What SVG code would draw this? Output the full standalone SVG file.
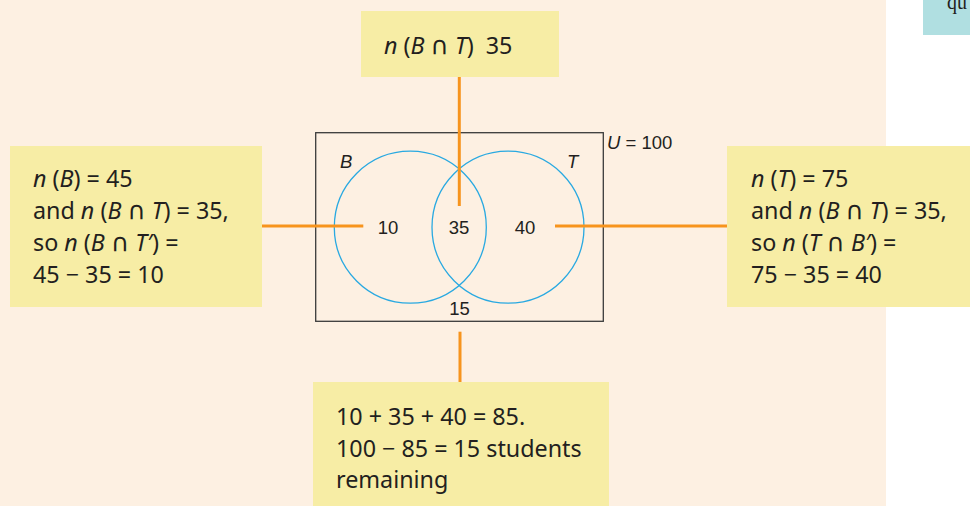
<svg xmlns="http://www.w3.org/2000/svg" width="970" height="506" viewBox="0 0 970 506">
<style>
.box{fill:#f7eda5}
.bt{font-family:"Noto Sans","Open Sans",sans-serif;font-size:23.3px;fill:#231f20}
.i{font-style:italic}
.cap{font-family:"DejaVu Sans",sans-serif;font-size:25px}
.vt{font-family:"Liberation Sans",Arial,sans-serif;font-size:18.5px;fill:#231f20}
.conn{stroke:#f7941d;stroke-width:3;fill:none}
.circ{fill:none;stroke:#29a9e1;stroke-width:1.3}
</style>
<rect x="0" y="0" width="886" height="506" fill="#fdf0e2"/>
<rect x="923" y="0" width="47" height="35" fill="#b0dfe1"/>
<text x="947" y="9" font-family="Liberation Serif,serif" font-size="20" fill="#231f20">qu</text>
<g id="venn">
<rect x="315.7" y="132.7" width="287.6" height="188.6" fill="none" stroke="#3a3a3a" stroke-width="1.3"/>
<circle class="circ" cx="410.3" cy="227.2" r="76"/>
<circle class="circ" cx="508" cy="227.2" r="76"/>
<text class="vt i" x="340" y="168">B</text>
<text class="vt i" x="567" y="168">T</text>
<text class="vt" x="388" y="234" text-anchor="middle">10</text>
<text class="vt" x="459" y="234" text-anchor="middle">35</text>
<text class="vt" x="525" y="234" text-anchor="middle">40</text>
<text class="vt" x="459.5" y="315" text-anchor="middle">15</text>
<text class="vt" x="607" y="149"><tspan class="i">U</tspan> = 100</text>
</g>
<g id="connectors">
<line class="conn" x1="459.3" y1="77" x2="459.3" y2="206"/>
<line class="conn" x1="262" y1="226" x2="363.3" y2="226"/>
<line class="conn" x1="555" y1="226" x2="727" y2="226"/>
<line class="conn" x1="460" y1="331.7" x2="460" y2="382"/>
</g>
<g id="top-box">
<rect class="box" x="361" y="11" width="198" height="66"/>
<text class="bt" x="384" y="54" style="white-space:pre"><tspan class="i">n</tspan> (<tspan class="i">B</tspan> <tspan class="cap">∩</tspan> <tspan class="i">T</tspan>)  35</text>
</g>
<g id="left-box">
<rect class="box" x="10" y="146" width="252" height="161"/>
<text class="bt" x="33" y="187"><tspan class="i">n</tspan> (<tspan class="i">B</tspan>) = 45</text>
<text class="bt" x="33" y="219">and <tspan class="i">n</tspan> (<tspan class="i">B</tspan> <tspan class="cap">∩</tspan> <tspan class="i">T</tspan>) = 35,</text>
<text class="bt" x="33" y="251">so <tspan class="i">n</tspan> (<tspan class="i">B</tspan> <tspan class="cap">∩</tspan> <tspan class="i">T′</tspan>) =</text>
<text class="bt" x="33" y="283">45 − 35 = 10</text>
</g>
<g id="right-box">
<rect class="box" x="727" y="146" width="243" height="161"/>
<text class="bt" x="751" y="187"><tspan class="i">n</tspan> (<tspan class="i">T</tspan>) = 75</text>
<text class="bt" x="751" y="219">and <tspan class="i">n</tspan> (<tspan class="i">B</tspan> <tspan class="cap">∩</tspan> <tspan class="i">T</tspan>) = 35,</text>
<text class="bt" x="751" y="251">so <tspan class="i">n</tspan> (<tspan class="i">T</tspan> <tspan class="cap">∩</tspan> <tspan class="i">B′</tspan>) =</text>
<text class="bt" x="751" y="283">75 − 35 = 40</text>
</g>
<g id="bottom-box">
<rect class="box" x="313" y="382" width="296" height="124"/>
<text class="bt" x="336" y="425">10 + 35 + 40 = 85.</text>
<text class="bt" x="336" y="457">100 − 85 = 15 students</text>
<text class="bt" x="336" y="488">remaining</text>
</g>
</svg>
